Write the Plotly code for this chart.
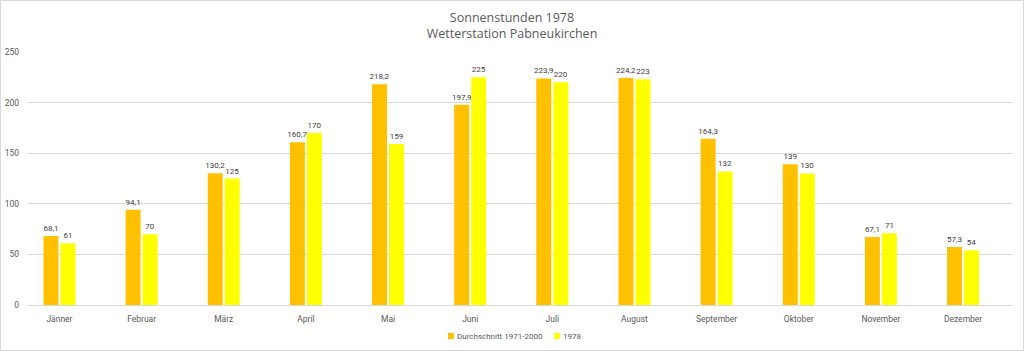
import plotly.graph_objects as go

months = ["Jänner", "Februar", "März", "April", "Mai", "Juni", "Juli",
          "August", "September", "Oktober", "November", "Dezember"]
avg_1971_2000 = [68.1, 94.1, 130.2, 160.7, 218.2, 197.9, 223.9, 224.2, 164.3, 139, 67.1, 57.3]
year_1978 = [61, 70, 125, 170, 159, 225, 220, 223, 132, 130, 71, 54]
y_ticks = [0, 50, 100, 150, 200, 250]
series_names = ["Durchschnitt 1971-2000", "1978"]
series_colors = ["#FFC000", "#FFFF00"]


def fmt(v):
    s = f"{v:g}"
    return s.replace(".", ",")


FONT = "Open Sans"
SMALL = "Roboto"
W, H = 1024, 351
L, R, T, B = 28, 1013, 52, 305
PW, PH = R - L, B - T


def px_x(p):
    return (p - L) / PW


def px_y(p):
    return (B - p) / PH


fig = go.Figure()
for name, vals, col in zip(series_names, [avg_1971_2000, year_1978], series_colors):
    fig.add_trace(go.Bar(
        name=name, x=list(range(len(months))), y=vals,
        marker=dict(color=col, line=dict(width=0)),
        text=[fmt(v) for v in vals], textposition="outside",
        constraintext="none",
        textfont=dict(size=8, color="#404040", family=SMALL), cliponaxis=False,
    ))

shapes = [dict(
    type="rect", xref="paper", yref="paper",
    x0=px_x(0.5), x1=px_x(W - 0.5), y0=px_y(H - 0.5), y1=px_y(0.5),
    line=dict(color="#d9d9d9", width=1), fillcolor="rgba(0,0,0,0)",
    layer="below",
)]
annotations = []
# legend (custom, small squares as in the reference)
legend_items = [(448, series_names[0], series_colors[0]), (554, series_names[1], series_colors[1])]
for x0, name, col in legend_items:
    shapes.append(dict(type="rect", xref="paper", yref="paper",
                       x0=px_x(x0), x1=px_x(x0 + 6), y0=px_y(339), y1=px_y(333),
                       line=dict(width=0), fillcolor=col))
    annotations.append(dict(text=name, xref="paper", yref="paper",
                            x=px_x(x0 + 7), y=px_y(336), xanchor="left", yanchor="middle",
                            showarrow=False, font=dict(size=8, color="#595959", family=SMALL)))

fig.update_layout(
    width=W, height=H,
    margin=dict(l=L, r=W - R, t=T, b=H - B, pad=0, autoexpand=False),
    paper_bgcolor="white", plot_bgcolor="white",
    barmode="group", bargap=0.586, bargroupgap=0.12,
    font=dict(family=FONT, color="#595959"),
    title=dict(text="Sonnenstunden 1978<br>Wetterstation Pabneukirchen",
               x=0.5, xanchor="center", xref="container",
               y=1 - 22 / H, yanchor="middle", yref="container",
               font=dict(size=12.5, color="#595959", family=FONT)),
    showlegend=False,
    xaxis=dict(
        tickmode="array", tickvals=list(range(len(months))), ticktext=months,
        range=[-0.383, 11.608], showgrid=False, zeroline=False,
        showline=False, ticks="", tickfont=dict(size=8.5, color="#595959", family=SMALL),
        ticklabelstandoff=7, automargin=False,
    ),
    yaxis=dict(
        range=[0, 250], tickvals=y_ticks, showgrid=True, gridcolor="#d9d9d9",
        gridwidth=1, zeroline=True, zerolinecolor="#d9d9d9", zerolinewidth=1,
        showline=False, ticks="", tickfont=dict(size=8.5, color="#595959", family=SMALL),
        ticklabelstandoff=8, automargin=False,
    ),
    shapes=shapes,
    annotations=annotations,
)

fig.write_html("out.html")
